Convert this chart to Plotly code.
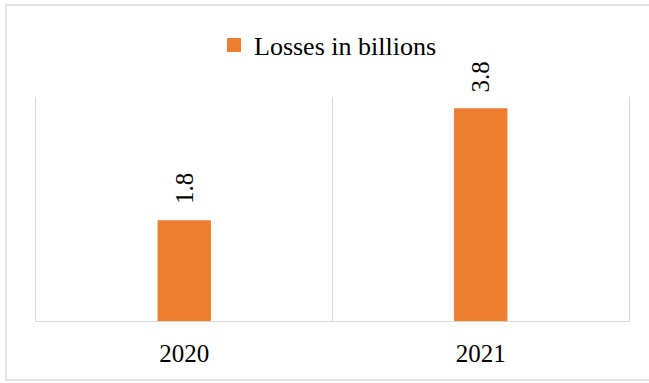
import plotly.graph_objects as go

years = ["2020", "2021"]
losses = [1.8, 3.8]
labels = ["1.8", "3.8"]
series_name = "Losses in billions"

W, H = 649, 383
L, R, T, B = 36, 20, 97, 62
pw, ph = W - L - R, H - T - B
ORANGE = "#ED7D31"
GRID = "#D9D9D9"

fig = go.Figure()
fig.add_trace(go.Bar(
    x=years, y=losses, name=series_name,
    marker=dict(color=ORANGE, line=dict(width=0)),
    width=0.18, showlegend=False,
))
# legend entry with a larger square symbol
fig.add_trace(go.Scatter(
    x=[years[0]], y=[None], mode="markers", name=series_name,
    marker=dict(symbol="square", size=14, color=ORANGE),
    showlegend=True, hoverinfo="skip",
))

for i, (v, t) in enumerate(zip(losses, labels)):
    fig.add_annotation(x=i, y=v, text=t, textangle=-90, showarrow=False,
                       yanchor="bottom", xanchor="center", yshift=14,
                       font=dict(family="Liberation Serif", size=25, color="#000000"))

def px2x(p):
    return (p - L) / pw

def py2y(p):
    return (H - B - p) / ph

fig.update_layout(
    width=W, height=H,
    margin=dict(l=L, r=R, t=T, b=B),
    paper_bgcolor="white", plot_bgcolor="white",
    font=dict(family="Liberation Serif", size=26, color="#000000"),
    showlegend=True,
    legend=dict(orientation="h", x=px2x(214), xanchor="left", y=py2y(45), yanchor="middle",
                font=dict(size=26), itemwidth=30, bgcolor="rgba(0,0,0,0)"),
    xaxis=dict(type="category", tickson="boundaries", showgrid=True, gridcolor=GRID,
               gridwidth=1.3, showline=True, linecolor=GRID, linewidth=1.3,
               ticks="", tickfont=dict(size=25), ticklabelstandoff=10, range=[-0.5, 1.5]),
    yaxis=dict(range=[0, 4], showgrid=False, showticklabels=False, zeroline=False,
               showline=True, mirror=True, linecolor=GRID, linewidth=1.3, ticks=""),
    shapes=[dict(type="rect", xref="paper", yref="paper",
                 x0=px2x(6), x1=px2x(660), y0=py2y(380), y1=py2y(5),
                 line=dict(color=GRID, width=1.3), fillcolor="rgba(0,0,0,0)", layer="below")],
)

fig.write_html("out.html")
